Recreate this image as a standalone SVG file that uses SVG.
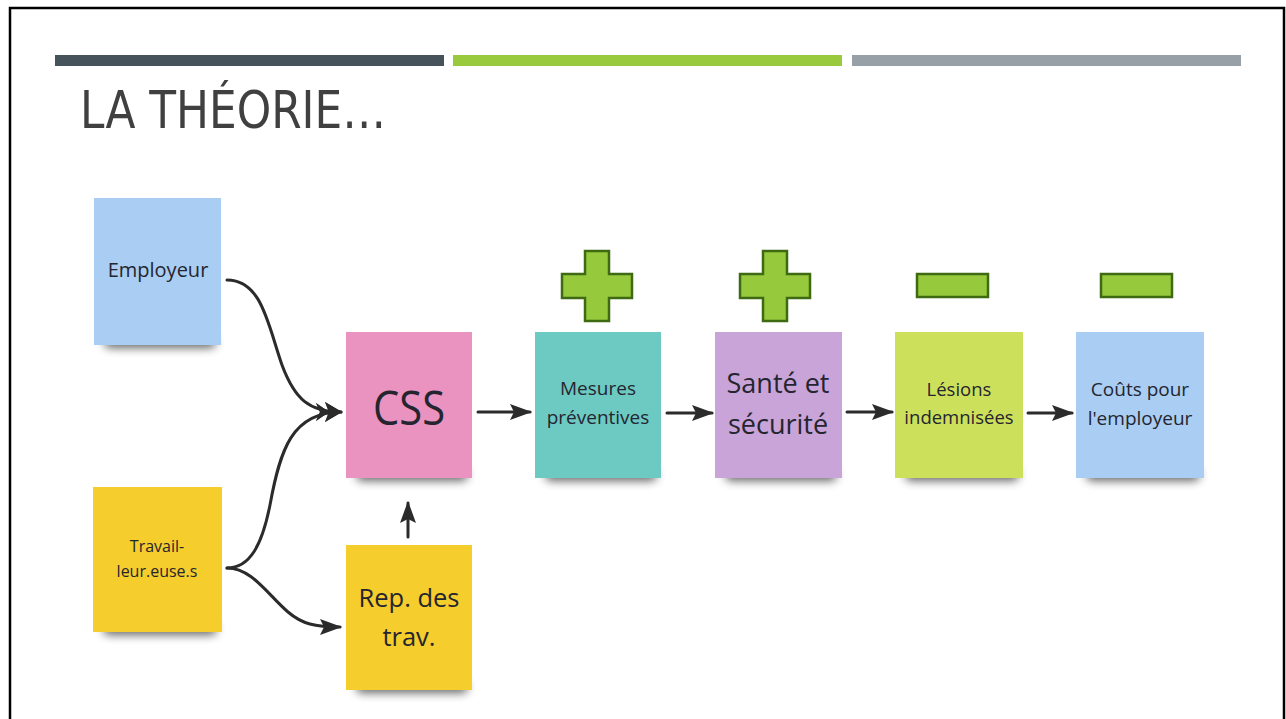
<svg xmlns="http://www.w3.org/2000/svg" width="1286" height="719" viewBox="0 0 1286 719">
  <defs>
    <style>
      .title { font-family: "DejaVu Sans", "Liberation Sans", sans-serif; font-stretch: condensed; fill: #404040; }
      .note-text { font-family: "Open Sans", "Noto Sans", sans-serif; fill: #25252f; text-anchor: middle; }
      .link { fill: none; stroke: #2b2b2b; stroke-width: 3; stroke-linecap: round; }
      .sign { fill: #97c93d; stroke: #3e6a12; stroke-width: 2.5; }
      .shadow { fill: #000; opacity: 0.6; filter: url(#soft); }
    </style>
    <filter id="soft" x="-30%" y="-100%" width="160%" height="300%">
      <feGaussianBlur stdDeviation="5"/>
    </filter>
    <marker id="head" viewBox="0 0 22 16" refX="20" refY="8" markerWidth="22" markerHeight="16" markerUnits="userSpaceOnUse" orient="auto">
      <path d="M0,0 L22,8 L0,16 L4,8 Z" fill="#2b2b2b"/>
    </marker>
    <marker id="head2" viewBox="0 0 26 20" refX="25" refY="10" markerWidth="26" markerHeight="20" markerUnits="userSpaceOnUse" orient="auto">
      <path d="M0,1 L13,10 L0,19 L4,10 Z" fill="#2b2b2b"/>
      <path d="M9,0 L26,10 L9,20 L13,10 Z" fill="#2b2b2b"/>
    </marker>
  </defs>

  <!-- page frame -->
  <rect x="0" y="0" width="1286" height="719" fill="#ffffff"/>
  <path d="M10,719 V8 H1284 V719" fill="none" stroke="#000" stroke-width="2.5"/>

  <!-- header bars and title -->
  <rect x="55" y="55" width="389" height="11" fill="#47535a"/>
  <rect x="453" y="55" width="389" height="11" fill="#99c93d"/>
  <rect x="852" y="55" width="389" height="11" fill="#979fa7"/>
  <text class="title" x="80" y="128" font-size="52" textLength="306" lengthAdjust="spacingAndGlyphs">LA THÉORIE…</text>

  <!-- plus / minus signs -->
  <g id="sign-mesures">
    <path class="sign" d="M585,251 H609 V274 H632 V298 H609 V321 H585 V298 H562 V274 H585 Z"/>
  </g>
  <g id="sign-sante">
    <path class="sign" d="M763,251 H787 V274 H810 V298 H787 V321 H763 V298 H740 V274 H763 Z"/>
  </g>
  <g id="sign-lesions">
    <rect class="sign" x="917" y="274" width="71" height="23"/>
  </g>
  <g id="sign-couts">
    <rect class="sign" x="1101" y="274" width="71" height="23"/>
  </g>

  <!-- sticky notes -->
  <g id="employeur">
    <rect class="shadow" x="104" y="336" width="112" height="12" rx="6"/>
    <rect x="94" y="198" width="127" height="147" fill="#a9cdf3"/>
    <text class="note-text" x="158" y="277" font-size="20">Employeur</text>
  </g>
  <g id="travailleurs">
    <rect class="shadow" x="103" y="623" width="114" height="12" rx="6"/>
    <rect x="93" y="487" width="129" height="145" fill="#f5cd2c"/>
    <text class="note-text" x="157" y="552" font-size="16">Travail-</text>
    <text class="note-text" x="157" y="577" font-size="16">leur.euse.s</text>
  </g>
  <g id="css">
    <rect class="shadow" x="356" y="469" width="112" height="12" rx="6"/>
    <rect x="346" y="332" width="126" height="146" fill="#ea93c0"/>
    <text class="note-text" x="409" y="425" font-size="47" textLength="72" lengthAdjust="spacingAndGlyphs">CSS</text>
  </g>
  <g id="rep-trav">
    <rect class="shadow" x="356" y="681" width="112" height="12" rx="6"/>
    <rect x="346" y="545" width="126" height="145" fill="#f5cd2c"/>
    <text class="note-text" x="409" y="607" font-size="25.5">Rep. des</text>
    <text class="note-text" x="409" y="646" font-size="25.5">trav.</text>
  </g>
  <g id="mesures">
    <rect class="shadow" x="545" y="469" width="112" height="12" rx="6"/>
    <rect x="535" y="332" width="126" height="146" fill="#6ccac3"/>
    <text class="note-text" x="598" y="395" font-size="19">Mesures</text>
    <text class="note-text" x="598" y="424" font-size="19">préventives</text>
  </g>
  <g id="sante">
    <rect class="shadow" x="725" y="469" width="112" height="12" rx="6"/>
    <rect x="715" y="332" width="127" height="146" fill="#c9a4d9"/>
    <text class="note-text" x="778" y="393" font-size="27">Santé et</text>
    <text class="note-text" x="778" y="434" font-size="27">sécurité</text>
  </g>
  <g id="lesions">
    <rect class="shadow" x="905" y="469" width="114" height="12" rx="6"/>
    <rect x="895" y="332" width="128" height="146" fill="#cde05b"/>
    <text class="note-text" x="959" y="396" font-size="18.5">Lésions</text>
    <text class="note-text" x="959" y="424" font-size="18.5">indemnisées</text>
  </g>
  <g id="couts">
    <rect class="shadow" x="1086" y="469" width="114" height="12" rx="6"/>
    <rect x="1076" y="332" width="128" height="146" fill="#a9cdf3"/>
    <text class="note-text" x="1140" y="396" font-size="19">Coûts pour</text>
    <text class="note-text" x="1140" y="425" font-size="19">l'employeur</text>
  </g>

  <!-- connectors -->
  <g id="connectors">
    <path class="link" d="M227,280 C262,280 268,325 282,365 C295,400 310,412 341,412" marker-end="url(#head2)"/>
    <path class="link" d="M227,568 C250,568 262,545 270,505 C280,450 292,412 341,412" marker-end="url(#head2)"/>
    <path class="link" d="M227,568 C252,568 268,595 288,612 C302,624 315,627 340,627" marker-end="url(#head)"/>
    <path class="link" d="M408,537 V503" marker-end="url(#head)" stroke-width="2.5"/>
    <path class="link" d="M478,412 H530" marker-end="url(#head)"/>
    <path class="link" d="M667,413 H712" marker-end="url(#head)"/>
    <path class="link" d="M847,412 H892" marker-end="url(#head)"/>
    <path class="link" d="M1028,413 H1072" marker-end="url(#head)"/>
  </g>
</svg>
